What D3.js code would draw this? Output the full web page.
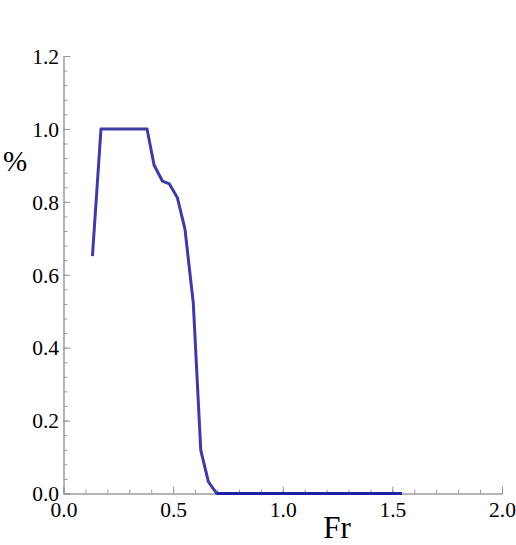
<!DOCTYPE html>
<html>
<head>
<meta charset="utf-8">
<script src="https://cdn.jsdelivr.net/npm/d3@7"></script>
<style>
  html, body { margin: 0; padding: 0; background: #fff; }
  svg { display: block; }
</style>
</head>
<body>
<svg id="chart" width="516" height="545"></svg>
<script>
// Data
const frValues = [0.132, 0.171, 0.381, 0.413, 0.451, 0.483, 0.519, 0.554, 0.592, 0.626, 0.661, 0.699, 1.543];
const pctValues = [0.651, 1.0, 1.0, 0.901, 0.857, 0.849, 0.812, 0.725, 0.522, 0.119, 0.032, 0.0, 0.0];
const xTicks = [0.0, 0.5, 1.0, 1.5, 2.0];
const yTicks = [0.0, 0.2, 0.4, 0.6, 0.8, 1.0, 1.2];
const xTitle = "Fr";
const yTitle = "%";

const svg = d3.select("#chart");
const x = d3.scaleLinear().domain([0, 2]).range([63.5, 502]);
const y = d3.scaleLinear().domain([0, 1.2]).range([493.5, 56]);
const axisColor = "#9a9a9a";
const serif = "'Liberation Serif', 'Times New Roman', serif";

// minor ticks
const xMinor = d3.range(0, 2.0001, 0.1);
const yMinor = d3.range(0, 1.2001, 0.04);

function grayLines(g) {
  g.select(".domain").attr("stroke", axisColor);
  g.selectAll(".tick line").attr("stroke", axisColor);
}

const mx = svg.append("g").attr("transform", `translate(0,${y(0)})`)
  .call(d3.axisBottom(x).tickValues(xMinor).tickSize(-4).tickFormat(""));
grayLines(mx);
const my = svg.append("g").attr("transform", `translate(${x(0)},0)`)
  .call(d3.axisLeft(y).tickValues(yMinor).tickSize(-4).tickFormat(""));
grayLines(my);

// major ticks
const gx = svg.append("g").attr("transform", `translate(0,${y(0)})`)
  .call(d3.axisBottom(x).tickValues(xTicks).tickSize(-7).tickFormat(d3.format(".1f")));
gx.attr("font-family", null).attr("font-size", null);
grayLines(gx);
gx.selectAll(".tick text")
  .style("font-family", serif).style("font-size", "21.5px")
  .attr("fill", "#000").attr("y", 8).attr("dy", "0.71em");

const gy = svg.append("g").attr("transform", `translate(${x(0)},0)`)
  .call(d3.axisLeft(y).tickValues(yTicks).tickSize(-7).tickFormat(d3.format(".1f")));
gy.attr("font-family", null).attr("font-size", null);
grayLines(gy);
gy.selectAll(".tick text")
  .style("font-family", serif).style("font-size", "21.5px")
  .attr("fill", "#000").attr("x", -4.5).attr("dy", "0.34em");

// line
const line = d3.line().x((d, i) => x(frValues[i])).y((d, i) => y(pctValues[i]));
svg.append("path")
  .datum(pctValues)
  .attr("d", line)
  .attr("fill", "none")
  .attr("stroke", "#3c3ca3")
  .attr("stroke-width", 3)
  .attr("stroke-linejoin", "round");

// zero-valued stretch appears in a deeper blue in the reference
const zeroIdx = pctValues.map((v, i) => i).filter(i => pctValues[i] === 0);
const zeroLine = d3.line().x(i => x(frValues[i])).y(i => y(pctValues[i]));
svg.append("path")
  .datum(zeroIdx)
  .attr("d", zeroLine)
  .attr("fill", "none")
  .attr("stroke", "#2020a6")
  .attr("stroke-width", 3);

// titles
svg.append("text").attr("x", 337).attr("y", 538).attr("text-anchor", "middle")
  .style("font-family", serif).style("font-size", "31px").attr("fill", "#000").text(xTitle);
svg.append("text").attr("x", 15).attr("y", 171).attr("text-anchor", "middle")
  .style("font-family", serif).style("font-size", "29px").attr("fill", "#000").text(yTitle);
</script>
</body>
</html>
